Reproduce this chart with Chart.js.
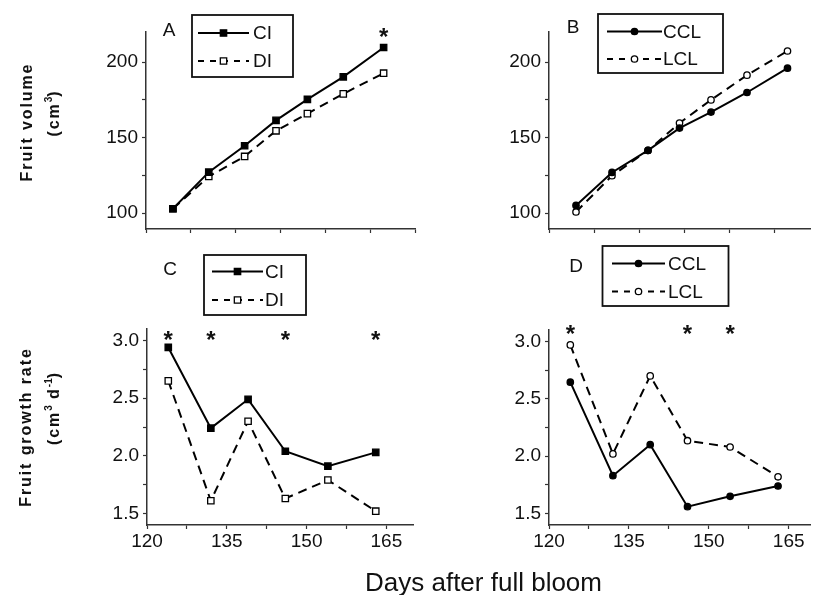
<!DOCTYPE html>
<html>
<head>
<meta charset="utf-8">
<script src="https://cdn.jsdelivr.net/npm/chart.js@4.4.0/dist/chart.umd.min.js"></script>
<style>
  body { margin:0; background:#fff; }
  #wrap { position:relative; width:813px; height:595px; overflow:hidden; font-family:"Liberation Sans", Arial, sans-serif; }
  canvas { position:absolute; left:0; top:0; }
  .ytitle { position:absolute; white-space:nowrap; font-weight:bold; font-size:16px; letter-spacing:1.9px; color:#111;
            transform:translate(-50%,-50%) rotate(-90deg); }
  .ytitle sup { font-size:10px; letter-spacing:0; }
  #xtitle { position:absolute; left:365px; top:567px; font-size:26px; color:#111; white-space:nowrap; }
</style>
</head>
<body>
<div id="wrap">
  <canvas id="pA" width="813" height="595"></canvas>
  <canvas id="pB" width="813" height="595"></canvas>
  <canvas id="pC" width="813" height="595"></canvas>
  <canvas id="pD" width="813" height="595"></canvas>
  <div class="ytitle" style="left:27px;top:122px">Fruit volume</div>
  <div class="ytitle" style="left:53px;top:113px">(cm<sup>3</sup>)</div>
  <div class="ytitle" style="left:26px;top:427px">Fruit growth rate</div>
  <div class="ytitle" style="left:53px;top:408px">(cm<sup>3</sup> d<sup>-1</sup>)</div>
  <div id="xtitle">Days after full bloom</div>
</div>
<script>
// days after full bloom
const volDays = [116, 124, 132, 139, 146, 154, 163];
const rateDays = [124, 132, 139, 146, 154, 163];

// fruit volume (cm3)
const ciVol  = [102.8, 127.1, 144.6, 161.4, 175.3, 190.3, 209.7];
const diVol  = [102.8, 124.2, 137.5, 154.5, 165.9, 179.0, 192.7];
const cclVol = [105.0, 126.9, 141.5, 156.3, 166.9, 179.9, 196.0];
const lclVol = [100.7, 124.7, 141.5, 159.6, 175.0, 191.4, 207.4];

// fruit growth rate (cm3 d-1)
const ciRate  = [2.94, 2.24, 2.49, 2.04, 1.91, 2.03];
const diRate  = [2.65, 1.61, 2.30, 1.63, 1.79, 1.52];
const cclRate = [2.645, 1.83, 2.10, 1.56, 1.65, 1.74];
const lclRate = [2.97, 2.02, 2.70, 2.135, 2.08, 1.82];

// significant differences (*)
const starsA = [163];
const starsB = [];
const starsC = [124, 132, 146, 163];
const starsD = [124, 146, 154];

// ticks
const volTicks = [100, 125, 150, 175, 200];
const volLabels = [100, 150, 200];
const rateTicks = [1.5, 1.75, 2, 2.25, 2.5, 2.75, 3];
const rateLabels = [1.5, 2, 2.5, 3];
const volDayTicks = [110, 120, 130, 140, 150, 160, 170];
const rateDayTicks = [120, 127.5, 135, 142.5, 150, 157.5, 165];
const rateDayLabels = [120, 135, 150, 165];

const W = 813, H = 595, YW = 60, XH = 40;
const FONT = '"Liberation Sans", Arial, sans-serif';
const AX = '#333';

function pts(xs, ys) { return xs.map((x, i) => ({x: x, y: ys[i]})); }

function series(label, xs, ys, style, filled, dashed) {
  return {
    label: label, data: pts(xs, ys),
    borderColor: '#000', borderWidth: 2, borderDash: dashed ? [9, 6] : [],
    tension: 0, fill: false,
    pointStyle: style, pointRadius: style === 'rect' ? 4.5 : 3.2,
    pointBackgroundColor: filled ? '#000' : '#fff', pointBorderColor: '#000',
    pointBorderWidth: 1.3
  };
}

function mark(ctx, ds, x, y) {
  ctx.save();
  ctx.setLineDash([]);
  ctx.fillStyle = ds.pointBackgroundColor;
  ctx.strokeStyle = '#000';
  ctx.lineWidth = ds.pointBorderWidth;
  ctx.beginPath();
  if (ds.pointStyle === 'rect') {
    const s = ds.pointRadius * Math.SQRT1_2;
    ctx.rect(x - s, y - s, 2 * s, 2 * s);
  } else {
    ctx.arc(x, y, ds.pointRadius, 0, Math.PI * 2);
  }
  ctx.fill();
  ctx.stroke();
  ctx.restore();
}

function deco(o) {
  return {
    id: 'deco',
    afterDraw(chart) {
      const ctx = chart.ctx, xs = chart.scales.x, ys = chart.scales.y;
      ctx.save();
      // panel letter
      ctx.fillStyle = '#111';
      ctx.font = '19px ' + FONT;
      ctx.textAlign = 'center';
      ctx.textBaseline = 'middle';
      ctx.fillText(o.letter[0], o.letter[1], o.letter[2]);
      // stars
      ctx.font = 'bold 24px ' + FONT;
      ctx.textBaseline = 'alphabetic';
      o.stars.forEach(d => {
        ctx.fillText('*', xs.getPixelForValue(d), ys.getPixelForValue(o.starY) + 13);
      });
      // legend box
      const L = o.legend;
      ctx.strokeStyle = '#111';
      ctx.lineWidth = 1.8;
      ctx.strokeRect(L.box[0], L.box[1], L.box[2], L.box[3]);
      chart.data.datasets.forEach((ds, i) => {
        const y = L.rows[i];
        ctx.strokeStyle = '#000';
        ctx.lineWidth = 2;
        ctx.setLineDash(ds.borderDash.length ? [6, 6] : []);
        ctx.beginPath();
        ctx.moveTo(L.line[0], y);
        ctx.lineTo(L.line[1], y);
        ctx.stroke();
        mark(ctx, ds, (L.line[0] + L.line[1]) / 2, y);
        ctx.fillStyle = '#111';
        ctx.font = '19px ' + FONT;
        ctx.textAlign = 'left';
        ctx.textBaseline = 'middle';
        ctx.fillText(ds.label, L.text, y + 1);
      });
      ctx.restore();
    }
  };
}

function axis(min, max, ticks, labels, fmt, isX) {
  return {
    type: 'linear', min: min, max: max,
    afterBuildTicks: s => { s.ticks = ticks.filter(v => v >= min && v <= max).map(v => ({value: v})); },
    afterFit: s => { if (isX) s.height = XH; else s.width = YW; },
    ticks: {
      autoSkip: false, maxRotation: 0, color: '#111', padding: isX ? 1 : 4,
      font: {family: FONT, size: 19},
      callback: v => labels.includes(v) ? fmt(v) : ''
    },
    grid: {drawOnChartArea: false, tickLength: 4, tickColor: AX, tickWidth: 1.2},
    border: {display: true, color: AX, width: 1.5}
  };
}

function panel(id, o) {
  new Chart(document.getElementById(id), {
    type: 'line',
    data: {datasets: o.sets},
    options: {
      responsive: false, animation: false,
      layout: {autoPadding: false, padding: {left: o.area[0] - YW, top: o.area[1], right: W - o.area[2], bottom: H - o.area[3] - XH}},
      plugins: {legend: {display: false}, tooltip: {enabled: false}},
      scales: {
        x: o.x,
        y: o.y
      }
    },
    plugins: [deco(o)]
  });
}

const intFmt = v => String(v);
const decFmt = v => v.toFixed(1);

panel('pA', {
  area: [146, 32, 415, 229],
  sets: [series('CI', volDays, ciVol, 'rect', true, false), series('DI', volDays, diVol, 'rect', false, true)],
  x: axis(110, 170, volDayTicks, [], intFmt, true),
  y: axis(89.4, 220, volTicks, volLabels, intFmt, false),
  letter: ['A', 169, 31], stars: starsA, starY: 220,
  legend: {box: [192, 15, 101, 62], rows: [33, 61], line: [198, 249], text: 253}
});

panel('pB', {
  area: [549, 32, 810, 229],
  sets: [series('CCL', volDays, cclVol, 'circle', true, false), series('LCL', volDays, lclVol, 'circle', false, true)],
  x: axis(110, 168, volDayTicks, [], intFmt, true),
  y: axis(89.4, 220, volTicks, volLabels, intFmt, false),
  letter: ['B', 573, 28], stars: starsB, starY: 220,
  legend: {box: [598, 14, 125, 59], rows: [31.5, 59], line: [607, 662], text: 663}
});

panel('pC', {
  area: [147, 329, 413, 525],
  sets: [series('CI', rateDays, ciRate, 'rect', true, false), series('DI', rateDays, diRate, 'rect', false, true)],
  x: axis(120, 170, rateDayTicks, rateDayLabels, intFmt, true),
  y: axis(1.4, 3.1, rateTicks, rateLabels, decFmt, false),
  letter: ['C', 170, 270], stars: starsC, starY: 3.05,
  legend: {box: [204, 255, 102, 60], rows: [271.5, 300], line: [212, 263], text: 265}
});

panel('pD', {
  area: [549, 330, 810, 525],
  sets: [series('CCL', rateDays, cclRate, 'circle', true, false), series('LCL', rateDays, lclRate, 'circle', false, true)],
  x: axis(120, 169, rateDayTicks, rateDayLabels, intFmt, true),
  y: axis(1.4, 3.1, rateTicks, rateLabels, decFmt, false),
  letter: ['D', 576, 267], stars: starsD, starY: 3.11,
  legend: {box: [602.5, 246, 126, 60], rows: [263.5, 291.5], line: [612, 665], text: 668}
});
</script>
</body>
</html>
